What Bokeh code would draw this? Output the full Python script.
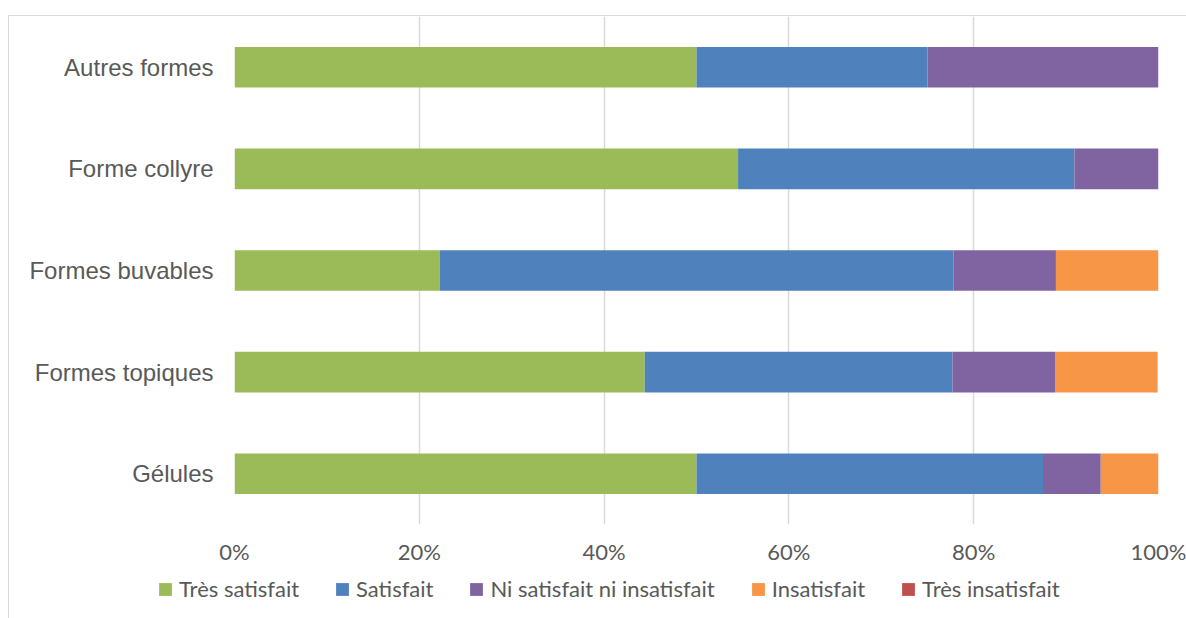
from bokeh.plotting import figure
from bokeh.models import FactorRange, Range1d, FixedTicker, Legend, LegendItem, ColumnDataSource
from bokeh.layouts import column
from bokeh.embed import file_html
from bokeh.resources import INLINE

# Data (percent of respondents per galenic form)
categories = ["Gélules", "Formes topiques", "Formes buvables", "Forme collyre", "Autres formes"]
series = ["Très satisfait", "Satisfait", "Ni satisfait ni insatisfait", "Insatisfait", "Très insatisfait"]
tres_satisfait = [50.0, 44.4, 22.2, 54.5, 50.0]
satisfait = [37.5, 33.3, 55.6, 36.4, 25.0]
ni_ni = [6.25, 11.1, 11.1, 9.1, 25.0]
insatisfait = [6.25, 11.1, 11.1, 0.0, 0.0]
tres_insatisfait = [0.0, 0.0, 0.0, 0.0, 0.0]
tick_values = [0, 20, 40, 60, 80, 100]
tick_labels = ["0%", "20%", "40%", "60%", "80%", "100%"]
colors = ["#9BBB59", "#4F81BD", "#8064A2", "#F79646", "#C0504D"]

source = ColumnDataSource(dict(
    cat=categories,
    s0=tres_satisfait, s1=satisfait, s2=ni_ni, s3=insatisfait, s4=tres_insatisfait,
))

p = figure(
    width=1178, height=554,
    y_range=FactorRange(factors=categories),
    x_range=Range1d(0, 100),
    output_backend="svg", toolbar_location=None,
    min_border_left=225, min_border_right=29, min_border_top=0, min_border_bottom=46,
)
p.frame_align = False
p.outline_line_color = None
p.background_fill_color = "white"
p.border_fill_color = "white"

p.hbar_stack(["s0", "s1", "s2", "s3", "s4"], y="cat", height=0.4,
             color=colors, line_color=None, source=source)

p.xaxis.ticker = FixedTicker(ticks=tick_values)
p.xaxis.major_label_overrides = {v: l for v, l in zip(tick_values, tick_labels)}
for ax in (p.xaxis, p.yaxis):
    ax.axis_line_color = None
    ax.major_tick_line_color = None
    ax.minor_tick_line_color = None
    ax.major_tick_out = 0
    ax.major_tick_in = 0
    ax.major_label_text_color = "#595959"
p.xaxis.major_label_text_font = "Lato"
p.xaxis.major_label_text_font_size = "22px"
p.xaxis.major_label_standoff = 13
p.yaxis.major_label_text_font = "Liberation Sans"
p.yaxis.major_label_text_font_size = "24px"
p.yaxis.major_label_standoff = 21

p.xgrid.grid_line_color = "#D9D9D9"
p.xgrid.grid_line_width = 1.5
p.ygrid.grid_line_color = None

# Legend figure (below the chart); swatch glyphs have zero width so draw nothing
lf = figure(
    width=1178, height=49, x_range=Range1d(0, 1), y_range=Range1d(0, 1),
    output_backend="svg", toolbar_location=None,
    x_axis_location=None, y_axis_location=None,
    min_border_left=0, min_border_right=0, min_border_top=0, min_border_bottom=0,
)
lf.frame_align = False
lf.grid.grid_line_color = None
lf.outline_line_color = None
lf.border_fill_color = "white"
legend_renderers = [lf.hbar(y=[0.5], left=[0], right=[0], height=0.4, color=c, line_color=None)
                    for c in colors]
legend = Legend(
    items=[LegendItem(label=s, renderers=[r]) for s, r in zip(series, legend_renderers)],
    orientation="horizontal", location=(148, 17),
    label_text_font="Lato", label_text_font_size="22px", label_text_color="#595959",
    glyph_width=16, glyph_height=16, label_standoff=6, spacing=35,
    border_line_color=None, background_fill_alpha=0, margin=0, padding=4,
    label_height=22,
)
lf.add_layout(legend, "center")

layout = column(p, lf, spacing=0)
layout.margin = (15, 0, 0, 8)
layout.styles = {"border-left": "1px solid #D9D9D9", "border-top": "1px solid #D9D9D9"}

open("out.html", "w").write(file_html(layout, INLINE))
